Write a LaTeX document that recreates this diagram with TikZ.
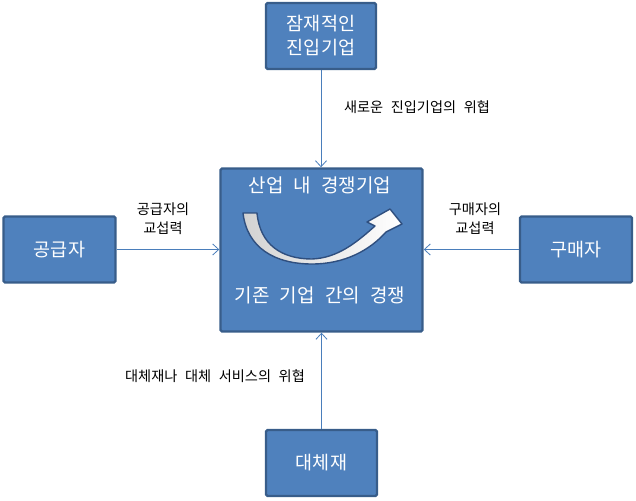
\documentclass[tikz,border=0pt]{standalone}
\usepackage{fontspec}
\setmainfont[WordSpace=2.4]{Noto Sans CJK KR}
\usetikzlibrary{arrows.meta}
\definecolor{boxfill}{HTML}{4F81BD}
\definecolor{boxline}{HTML}{385D8A}
\definecolor{conn}{HTML}{4A7EBB}
\definecolor{arrline}{HTML}{2F4F7F}
\tikzset{
  forcebox/.style={draw=boxline, line width=2.4pt, fill=boxfill, rounded corners=1.5pt,
    text=white, align=center, font=\fontsize{18.5}{24}\selectfont, inner sep=0pt},
  conline/.style={draw=conn, line width=0.9pt, -{Straight Barb[length=6pt,width=11pt,line width=0.8pt]}},
  lbl/.style={align=center, font=\fontsize{14.2}{19}\selectfont, inner sep=0pt, text=black},
  inner/.style={text=white, font=\fontsize{19}{24}\selectfont, inner sep=0pt}
}
\begin{document}
\begin{tikzpicture}[x=1pt,y=-1pt]
\useasboundingbox (0,0) rectangle (636,500);
\node[forcebox, minimum width=110pt, minimum height=66pt] (top) at (321,36) {잠재적인\\진입기업};
\node[forcebox, minimum width=202pt, minimum height=163pt] (mid) at (321.5,250) {};
\node[forcebox, minimum width=112pt, minimum height=66pt] (left) at (59.5,249.5) {공급자};
\node[forcebox, minimum width=112pt, minimum height=66pt] (right) at (576,249.5) {구매자};
\node[forcebox, minimum width=111pt, minimum height=66pt] (bot) at (321.5,463) {대체재};

\draw[conline] (top.south) -- (top.south |- mid.north);
\draw[conline] (bot.north) -- (bot.north |- mid.south);
\draw[conline] (left.east) -- (left.east -| mid.west);
\draw[conline] (right.west) -- (right.west -| mid.east);

\node[lbl] (l1) at (417,107) {새로운 진입기업의 위협};
\node[lbl] (l2) at (163,219) {공급자의\\교섭력};
\node[lbl] (l3) at (475,219) {구매자의\\교섭력};
\node[lbl] (l4) at (215,376) {대체재나 대체 서비스의 위협};

\node[inner] (t1) at (320,185) {산업 내 경쟁기업};
\node[inner] (t2) at (320,295) {기존 기업 간의 경쟁};

\shade[left color=gray!35, right color=white, draw=arrline, line width=1.4pt, line join=round]
  (243,213) .. controls (247,248) and (275,264) .. (312,264)
  .. controls (345,264) and (370,250) .. (386,232)
  -- (402,224) -- (390,209) -- (367,222) -- (375,226)
  .. controls (357,242) and (338,258) .. (312,259)
  .. controls (282,259) and (260,245) .. (257,213) -- cycle;
\end{tikzpicture}
\end{document}
